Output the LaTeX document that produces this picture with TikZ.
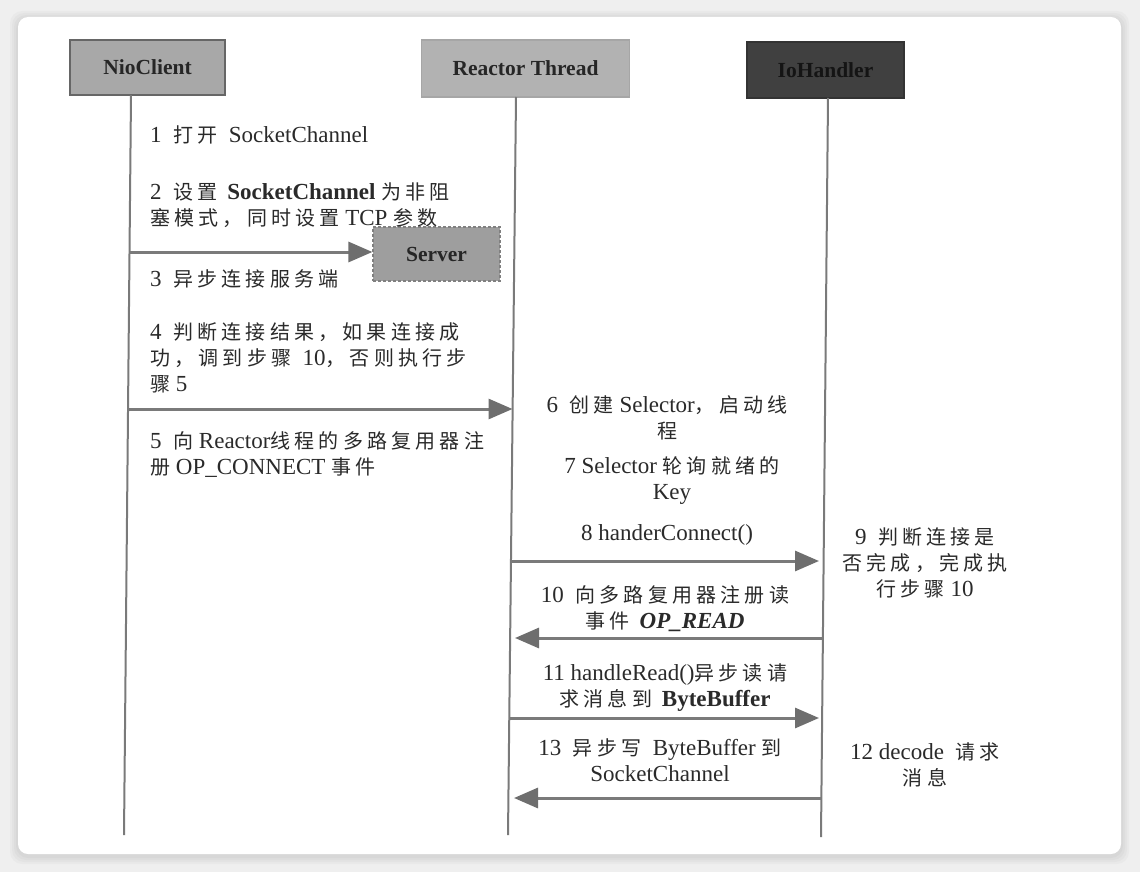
\documentclass[tikz,border=0pt]{standalone}
\usepackage{fontspec}
\setmainfont{Liberation Serif}
\newfontfamily\cjk[LetterSpace=21]{Noto Sans CJK SC}
\usetikzlibrary{arrows.meta}
\newcommand\zh[1]{{\cjk\fontsize{20}{26}\selectfont #1}}
\newcommand\gap{\hspace{0.5em}}
\definecolor{bgc}{HTML}{EFEFEF}
\definecolor{txtc}{HTML}{2A2A2A}
\definecolor{linec}{HTML}{7A7A7A}
\definecolor{headc}{HTML}{6E6E6E}
\tikzset{
  hdr/.style={draw=#1, line width=1.5pt, inner sep=0pt, font=\bfseries\fontsize{21.5}{26}\selectfont},
  lbl/.style={inner sep=0pt, text=txtc, font=\fontsize{23}{26}\selectfont},
  life/.style={draw=linec, line width=2pt},
  msg/.style={draw=linec, line width=3pt, -{Triangle[length=24pt,width=20pt,fill=headc,color=headc]}},
}
\begin{document}
\begin{tikzpicture}[x=1pt,y=-1pt]
\useasboundingbox (0,0) rectangle (1140,872);
% background and card
\fill[bgc] (0,0) rectangle (1140,872);
\foreach \i in {8,6,4,2}{
  \fill[black,opacity=0.025,rounded corners=12pt] (18-\i,17-\i+2) rectangle (1121+\i,854+\i+2);
}
\fill[white,rounded corners=10pt] (18,17) rectangle (1121,854);

% headers
\node[hdr=gray!80!black, fill=black!34, minimum width=155pt, minimum height=55pt, text=black!85] (nio) at (147.5,67.5) {NioClient};
\node[hdr=gray!70, fill=black!30, minimum width=208pt, minimum height=57pt, text=black!85] (rea) at (525.5,68.5) {Reactor Thread};
\node[hdr=black!80, fill=black!75, minimum width=157pt, minimum height=56pt, text=black!92] (ioh) at (825.5,70) {IoHandler};

% lifelines
\coordinate (nioT) at (131,95);
\coordinate (nioB) at (124,835);
\coordinate (reaT) at (516,97);
\coordinate (reaB) at (508,835);
\coordinate (iohT) at (828,98);
\coordinate (iohB) at (821,837);
\draw[life] (nioT) -- (nioB);
\draw[life] (reaT) -- (reaB);
\draw[life] (iohT) -- (iohB);

% server box
\node[draw=black!50, densely dashed, line width=1.2pt, fill=black!38, minimum width=127pt, minimum height=54pt, inner sep=0pt,
      font=\bfseries\fontsize{21.5}{26}\selectfont, text=black!85] (srv) at (436.5,254) {Server};

% message endpoints
\coordinate (a1s) at (129.5,252);
\coordinate (a2s) at (128,409);
\coordinate (a2e) at (512.5,409);
\coordinate (a8s) at (511,561);
\coordinate (a8e) at (819,561);
\coordinate (a10s) at (822.5,638);
\coordinate (a10e) at (515,638);
\coordinate (a11s) at (509.5,718);
\coordinate (a11e) at (819,718);
\coordinate (a13s) at (821.5,798);
\coordinate (a13e) at (514,798);

\draw[msg] (a1s) -- (srv.west |- a1s);
\draw[msg] (a2s) -- (a2e);
\draw[msg] (a8s) -- (a8e);
\draw[msg] (a10s) -- (a10e);
\draw[msg] (a11s) -- (a11e);
\draw[msg] (a13s) -- (a13e);

% left column texts
\node[lbl, anchor=west] (t1) at (150,135) {1\gap\zh{打开}\gap SocketChannel};
\node[lbl, anchor=west, align=left] (t2) at (150,205) {2\gap\zh{设置} \textbf{SocketChannel} \zh{为非阻}\\\zh{塞模式，同时设置} TCP \zh{参数}};
\node[lbl, anchor=west] (t3) at (150,279) {3\gap\zh{异步连接服务端}};
\node[lbl, anchor=west, align=left] (t4) at (150,358) {4\gap\zh{判断连接结果，如果连接成}\\\zh{功，调到步骤}\gap 10\zh{，否则执行步}\\\zh{骤} 5};
\node[lbl, anchor=west, align=left] (t5) at (150,454.5) {5\gap\zh{向} Reactor\zh{线程的多路复用器注}\\\zh{册} OP\_CONNECT \zh{事件}};

% middle column texts
\node[lbl, align=center] (t6) at (667,417.5) {6\gap\zh{创建} Selector\zh{，启动线}\\\zh{程}};
\node[lbl, align=center] (t7) at (672,480.5) {7 Selector \zh{轮询就绪的}\\Key};
\node[lbl] (t8) at (667,535) {8 handerConnect()};
\node[lbl, align=center] (t10) at (665,608.5) {10\gap\zh{向多路复用器注册读}\\\zh{事件} \textbf{\textit{OP\_READ}}};
\node[lbl, align=center] (t11) at (665,687.5) {11 handleRead()\zh{异步读请}\\\zh{求消息到} \textbf{ByteBuffer}};
\node[lbl, align=center] (t13) at (660,760.5) {13\gap\zh{异步写}\gap ByteBuffer \zh{到}\\SocketChannel};

% right column texts
\node[lbl, align=center] (t9) at (925,562.5) {9\gap\zh{判断连接是}\\\zh{否完成，完成执}\\\zh{行步骤} 10};
\node[lbl, align=center] (t12) at (925,765) {12 decode\gap\zh{请求}\\\zh{消息}};
\end{tikzpicture}
\end{document}
